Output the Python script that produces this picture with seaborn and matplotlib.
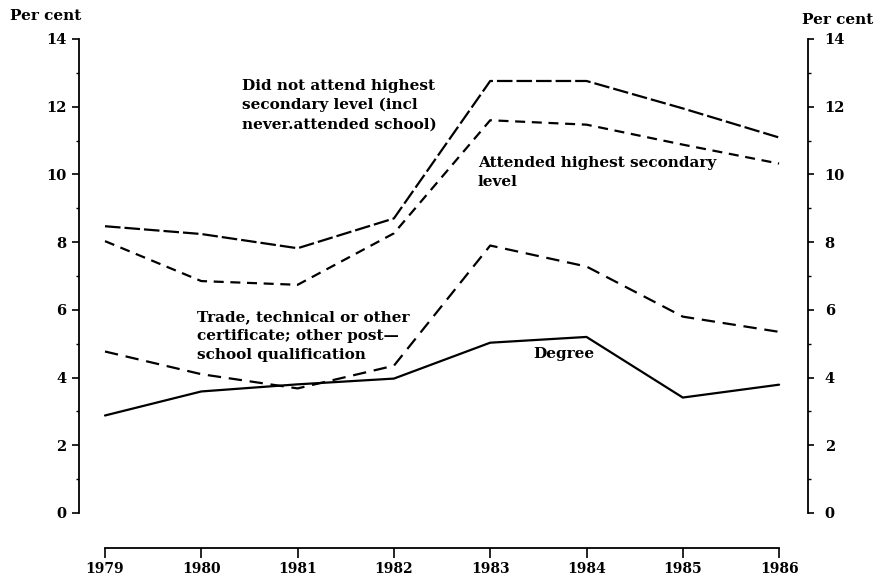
import matplotlib
matplotlib.use("Agg")
import matplotlib.pyplot as plt
from matplotlib.ticker import MultipleLocator
import seaborn as sns
import pandas as pd

years = [1979, 1980, 1981, 1982, 1983, 1984, 1985, 1986]
did_not_attend = [8.47, 8.24, 7.82, 8.70, 12.76, 12.76, 11.95, 11.09]
attended_highest = [8.03, 6.85, 6.74, 8.26, 11.60, 11.47, 10.88, 10.32]
trade_cert = [4.77, 4.10, 3.68, 4.35, 7.90, 7.28, 5.80, 5.35]
degree = [2.88, 3.59, 3.80, 3.97, 5.03, 5.20, 3.41, 3.79]

series_names = ["did_not_attend", "attended_highest", "trade_cert", "degree"]
series_values = [did_not_attend, attended_highest, trade_cert, degree]
y_ticks = [0, 2, 4, 6, 8, 10, 12, 14]

rows = []
for name, vals in zip(series_names, series_values):
    for yr, v in zip(years, vals):
        rows.append({"year": yr, "value": v, "series": name})
df = pd.DataFrame(rows)

sns.set_theme(style="ticks")
plt.rcParams["font.family"] = ["DejaVu Serif"]
plt.rcParams["font.weight"] = "bold"
for k in ["text.color", "xtick.color", "ytick.color", "axes.labelcolor", "axes.edgecolor"]:
    plt.rcParams[k] = "black"

W, H = 875, 582
fig = plt.figure(figsize=(W / 100, H / 100), dpi=100)
left_px, right_px, top_px, bot_px = 79, 808, 39, 513
ax = fig.add_axes([left_px / W, 1 - bot_px / H, (right_px - left_px) / W, (bot_px - top_px) / H])

dash_map = {
    "did_not_attend": (7.0, 1.8),
    "attended_highest": (4.5, 3.0),
    "trade_cert": (6.0, 3.5),
    "degree": "",
}
sns.lineplot(data=df, x="year", y="value", style="series", dashes=dash_map,
             color="black", linewidth=1.6, legend=False, ax=ax, markers=False)

x0_px = 105
px_per_year = 96.3
ax.set_xlim(1979 - (x0_px - left_px) / px_per_year,
            1979 + (right_px - x0_px) / px_per_year)
ax.set_ylim(0, 14)
ax.set_xlabel("")
ax.set_ylabel("")

for s in ["top", "right"]:
    ax.spines[s].set_visible(False)
ax.spines["left"].set_bounds(0, 14)
ax.spines["bottom"].set_position(("outward", 25))
ax.spines["bottom"].set_bounds(1979, 1986)
for s in ["left", "bottom"]:
    ax.spines[s].set_linewidth(1.3)

ax.set_xticks(years)
ax.set_xticklabels([str(y) for y in years], fontsize=10, fontweight="bold")
ax.set_yticks(y_ticks)
ax.set_yticklabels([str(v) for v in y_ticks], fontsize=10.5, fontweight="bold")
ax.yaxis.set_minor_locator(MultipleLocator(1))
ax.tick_params(axis="x", direction="out", length=7, width=1.2, pad=3)
ax.tick_params(axis="y", which="major", direction="out", length=5, width=1.2, pad=4)
ax.tick_params(axis="y", which="minor", direction="out", length=2, width=1.0)

ax2 = ax.twinx()
ax2.set_ylim(0, 14)
for s in ["top", "left", "bottom"]:
    ax2.spines[s].set_visible(False)
ax2.spines["right"].set_bounds(0, 14)
ax2.spines["right"].set_linewidth(1.3)
ax2.set_yticks(y_ticks)
ax2.set_yticklabels([str(v) for v in y_ticks], fontsize=10.5, fontweight="bold")
ax2.yaxis.set_minor_locator(MultipleLocator(1))
ax2.tick_params(axis="y", which="major", direction="out", length=4, width=1.2, pad=8)
ax2.tick_params(axis="y", which="minor", direction="out", length=2, width=1.0)

def px2data(px, py):
    return 1979 + (px - x0_px) / px_per_year, (bot_px - py) / 33.85

txt_kw = dict(fontsize=11, fontweight="bold", ha="left", va="top", linespacing=1.45, color="black")
x, y = px2data(242, 79)
ax.text(x, y, "Did not attend highest\nsecondary level (incl\nnever.attended school)", **txt_kw)
x, y = px2data(478, 156)
ax.text(x, y, "Attended highest secondary\nlevel", **txt_kw)
x, y = px2data(197, 310)
ax.text(x, y, "Trade, technical or other\ncertificate; other post\u2014\nschool qualification", **txt_kw)
x, y = px2data(533, 347)
ax.text(x, y, "Degree", **txt_kw)

fig.text(10 / W, 1 - 16 / H, "Per cent", fontsize=11, fontweight="bold", ha="left", va="center")
fig.text(802 / W, 1 - 20 / H, "Per cent", fontsize=11, fontweight="bold", ha="left", va="center")

fig.savefig("out.png", dpi=100, facecolor="white")
